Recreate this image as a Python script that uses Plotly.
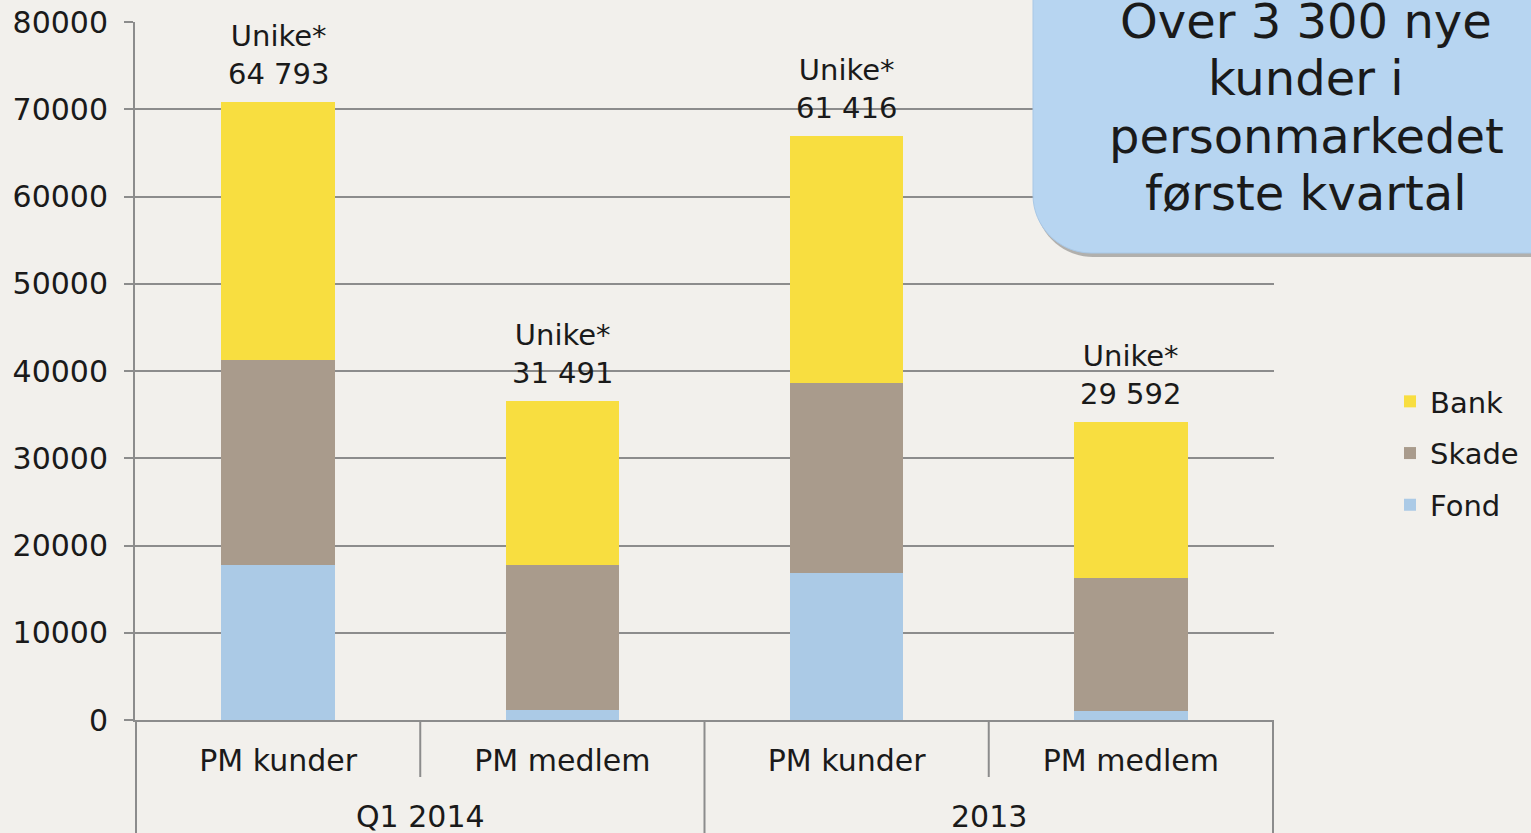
import plotly.graph_objects as go

# data
periods = ["Q1 2014", "Q1 2014", "2013", "2013"]
groups = ["PM kunder", "PM medlem", "PM kunder", "PM medlem"]
fond = [17800, 1150, 16850, 1030]
skade = [23460, 16620, 21770, 15240]
bank = [29570, 18790, 28310, 17880]
unike = ["64 793", "31 491", "61 416", "29 592"]
y_ticks = [0, 10000, 20000, 30000, 40000, 50000, 60000, 70000, 80000]
callout_lines = ["Over 3 300 nye", "kunder i", "personmarkedet", "første kvartal"]

W, H = 1531, 833
L, R, T, B = 135, 257, 22, 113
PW, PH = W - L - R, H - T - B

FONT = "DejaVu Sans"
TXT = "#1a1a1a"
GRID = "#8c8c8c"
BG = "#f2f0ec"


def px(x):
    return (x - L) / PW


def py(y):
    return (H - B - y) / PH


# one category per bar, shown with the short group name
cats = [p + " " + g for p, g in zip(periods, groups)]

fig = go.Figure()
series = [("Fond", fond, "#abcae6", 3), ("Skade", skade, "#a99b8c", 2), ("Bank", bank, "#f8de40", 1)]
for name, vals, col, rank in series:
    fig.add_trace(go.Bar(
        x=cats, y=vals, name=name, legendgroup=name, legendrank=rank,
        marker=dict(color=col, line=dict(width=0)),
        width=0.4,
    ))

# "Unike*" labels above each stack
for i, u in enumerate(unike):
    tot = fond[i] + skade[i] + bank[i]
    fig.add_annotation(
        x=i, y=tot, xref="x", yref="y", text="Unike*<br>" + u,
        showarrow=False, yanchor="bottom", yshift=9,
        font=dict(family=FONT, size=29, color=TXT),
    )

shapes = []
# dividers below the axis: short ones between groups, long ones between periods
for b, full in [(-0.5, True), (0.5, False), (1.5, True), (2.5, False), (3.5, True)]:
    y1 = -B / PH - 0.05 if full else -57 / PH
    shapes.append(dict(type="line", xref="x", yref="paper", x0=b, x1=b,
                       y0=0, y1=y1, line=dict(color=GRID, width=2)))

# period labels under the groups
for c, p in [(0.5, periods[0]), (2.5, periods[2])]:
    fig.add_annotation(
        x=c, y=py(816), xref="x", yref="paper", text=p, showarrow=False,
        yanchor="middle", font=dict(family=FONT, size=30, color=TXT),
    )


# callout box with shadow
def box_path(x0, y0, x1, y1, r):
    rx, ry = r / PW, r / PH
    k = 0.55
    X0, X1 = px(x0), px(x1)
    Y0, Y1 = py(y0), py(y1)
    return (f"M{X0},{Y0} L{X0},{Y1 + ry} "
            f"C{X0},{Y1 + ry * (1 - k)} {X0 + rx * (1 - k)},{Y1} {X0 + rx},{Y1} "
            f"L{X1},{Y1} L{X1},{Y0} Z")


shapes.append(dict(type="path", xref="paper", yref="paper",
                   path=box_path(1035, -20, 1560, 257, 58),
                   fillcolor="rgba(80,80,80,0.4)", line=dict(width=0), layer="above"))
shapes.append(dict(type="path", xref="paper", yref="paper",
                   path=box_path(1033, -20, 1560, 253, 58),
                   fillcolor="#b7d5f1", line=dict(color="#a9c8e6", width=1), layer="above"))

for j, line in enumerate(callout_lines):
    fig.add_annotation(
        x=px(1306), y=py(21 + 57.3 * j), xref="paper", yref="paper",
        text=line, showarrow=False, xanchor="center", yanchor="middle",
        font=dict(family=FONT, size=48, color=TXT),
    )

fig.update_layout(
    width=W, height=H,
    margin=dict(l=L, r=R, t=T, b=B, autoexpand=False),
    paper_bgcolor=BG, plot_bgcolor=BG,
    barmode="stack",
    font=dict(family=FONT, size=29, color=TXT),
    shapes=shapes,
    showlegend=True,
    legend=dict(
        x=px(1390), y=py(376), xanchor="left", yanchor="top",
        traceorder="grouped", tracegroupgap=11,
        font=dict(family=FONT, size=29, color=TXT),
        bgcolor="rgba(0,0,0,0)",
    ),
    xaxis=dict(
        type="category", showline=True, linecolor=GRID, linewidth=2,
        tickvals=cats, ticktext=groups,
        ticks="", ticklabelstandoff=13,
        tickfont=dict(family=FONT, size=30, color=TXT),
        showgrid=False, zeroline=False,
    ),
    yaxis=dict(
        range=[0, 80000], tickvals=y_ticks, tickformat="d",
        showgrid=True, gridcolor=GRID, gridwidth=2,
        showline=True, linecolor=GRID, linewidth=2,
        ticks="outside", ticklen=9, tickcolor=GRID, tickwidth=2,
        ticklabelstandoff=10, zeroline=False,
        tickfont=dict(family=FONT, size=30, color=TXT),
    ),
)

fig.write_html("out.html", config={"displayModeBar": False},
               post_script="document.body.style.margin='0px';")
